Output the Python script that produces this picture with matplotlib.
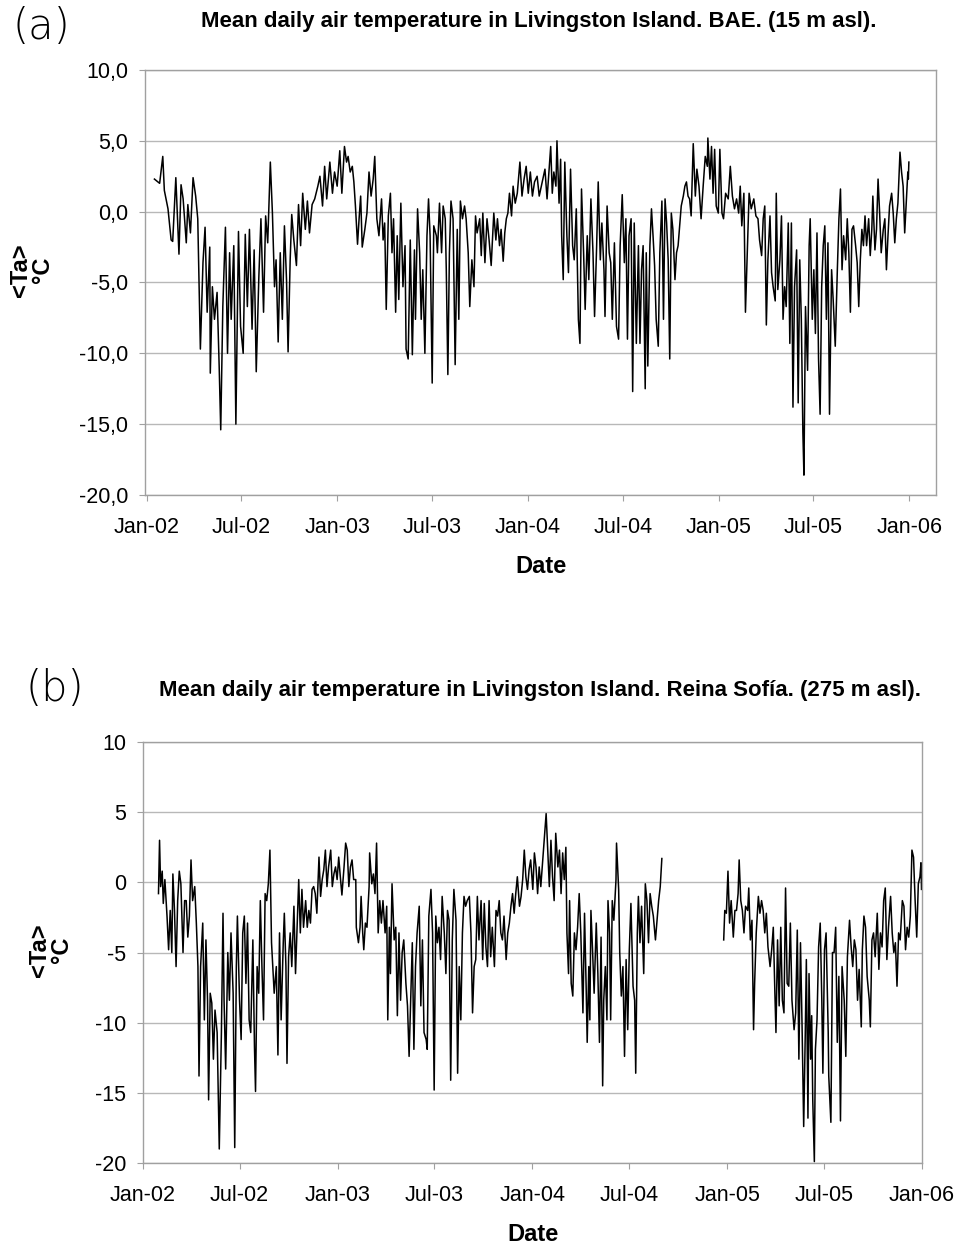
import numpy as np
import matplotlib
matplotlib.use('Agg')
import matplotlib.pyplot as plt
import matplotlib.dates as mdates
from matplotlib.ticker import FuncFormatter, MultipleLocator

plt.rcParams['font.family'] = ['Liberation Sans', 'DejaVu Sans']

# mean daily air temperature
# days counted from 1 Jan 2002
days_bae = [15, 25, 31, 34, 41, 47, 50, 56, 62, 66, 70, 76, 79, 84, 89, 94, 98, 103, 108, 112,
            116, 121, 122, 126, 130, 135, 139, 142, 146, 151, 155, 159, 162, 167, 171, 176, 180, 185, 189, 193,
            197, 202, 206, 210, 215, 219, 224, 228, 232, 237, 241, 245, 248, 252, 256, 260, 264, 268, 271, 275,
            278, 282, 287, 291, 295, 299, 304, 308, 312, 317, 322, 328, 332, 337, 341, 345, 351, 356, 360, 365,
            370, 374,
            379, 383, 386, 390, 394, 397, 400, 404, 407, 410, 413, 418, 422, 426, 430, 434, 437, 441, 445, 450,
            453, 456, 459, 463, 467, 470, 473, 477, 480, 483, 487, 491, 495, 497, 501, 505, 509, 513, 515, 519,
            523, 526, 529, 533, 537, 540, 543, 547, 550, 555, 557, 561, 565, 568, 572, 574, 577, 580, 583, 587,
            591, 595, 598, 601, 605, 609, 612, 616, 619, 623, 627, 630, 633, 638, 641, 644, 648, 652, 656, 660,
            665, 669, 672, 676, 679, 683, 686, 689, 692, 695, 699, 702, 706, 710, 715, 719, 723, 727, 731, 735,
            739, 743, 748, 752,
            763, 767, 771, 774, 777, 780, 784, 786, 790, 793, 795, 798, 801, 805, 808, 812, 816, 819, 823, 827,
            830, 833, 837, 840, 844, 847, 851, 855, 858, 862, 865, 869, 872, 876, 878, 882, 886, 889, 892, 896,
            900, 904, 907, 911, 915, 918, 921, 924, 928, 931, 934, 938, 942, 945, 948, 951, 955, 957, 960, 964,
            967, 970, 973, 976, 980, 983, 987, 990, 993, 996, 999, 1002, 1005, 1008, 1012, 1015, 1018, 1021, 1024, 1028,
            1031, 1034, 1037, 1040, 1043, 1047, 1051, 1054, 1058, 1062, 1066, 1070, 1074, 1075, 1079, 1082, 1085, 1088, 1091, 1095,
            1098, 1102, 1105, 1109, 1114, 1118, 1122, 1126, 1130, 1134, 1137, 1140, 1144, 1147, 1150, 1154,
            1158, 1163, 1167, 1171, 1174, 1178, 1181, 1184, 1187, 1190, 1194, 1197, 1200, 1204, 1206, 1209, 1213, 1216, 1219, 1222,
            1225, 1229, 1232, 1235, 1238, 1241, 1245, 1248, 1251, 1254, 1257, 1259, 1262, 1266, 1269, 1271, 1275, 1278, 1281, 1284,
            1287, 1290, 1293, 1296, 1299, 1302, 1305, 1308, 1312, 1315, 1319, 1323, 1326, 1329, 1332, 1335, 1339, 1342, 1345, 1348,
            1351, 1354, 1358, 1361, 1364, 1367, 1370, 1373, 1376, 1379, 1383, 1386, 1389, 1391, 1395, 1398, 1401, 1404, 1407, 1411,
            1414, 1417, 1420, 1423, 1427, 1430, 1433, 1436, 1439, 1443, 1446, 1449, 1452, 1455, 1458, 1459, 1460]
ta_bae = [2.3, 2.0, 3.9, 1.5, 0.2, -2.0, -2.1, 2.4, -3.0, 1.9, 0.9, -2.2, 0.5, -1.5, 2.4, 1.1, -0.5, -9.7, -3.6, -1.1,
          -7.1, -2.5, -11.4, -5.3, -7.6, -5.7, -10.9, -15.4, -6.7, -1.1, -10.0, -2.9, -7.6, -2.4, -15.0, -1.4, -8.1, -10.0, -1.6, -6.7,
          -1.25, -8.3, -2.7, -11.3, -4.6, -0.5, -7.1, -0.3, -2.2, 3.5, -0.1, -5.3, -3.4, -9.2, -2.9, -7.6, -1.0, -4.8, -9.9, -3.4,
          -0.2, -2.0, -3.8, 0.5, -2.4, 1.3, -1.25, 0.75, -1.5, 0.5, 0.9, 1.8, 2.5, 0.4, 3.2, 0.9, 3.5, 1.3, 2.8, 1.8,
          4.3, 1.3,
          4.6, 3.5, 3.9, 2.8, 3.2, 2.1, 0.4, -2.3, -0.5, 1.1, -2.5, -1.25, -0.1, 2.8, 1.1, 2.3, 3.9, -0.5, -1.7, 0.9,
          -2.0, -0.8, -6.9, -0.3, 1.3, -2.9, -0.5, -7.1, -1.7, -6.2, 0.6, -5.3, -2.4, -9.7, -10.4, -2.0, -10.1, -2.7, -7.6, 0.2,
          -2.9, -7.6, -4.1, -10.0, -1.7, 0.9, -1.7, -12.1, -1.0, -1.7, -2.9, 0.6, -2.9, 0.4, -0.5, -4.1, -11.5, -2.9, 0.75, -0.5,
          -10.8, -1.25, -7.6, 0.75, -0.5, 0.4, -0.5, -2.9, -6.7, -3.4, -5.3, -0.3, -1.5, -0.5, -3.1, -0.1, -3.6, -0.5, -2.0, -3.8,
          -0.1, -2.0, -0.5, -2.4, -1.25, -3.5, -1.5, -0.5, -0.1, 1.3, -0.3, 1.8, 0.6, 1.3, 3.5, 1.1, 2.3, 3.2, 1.3, 2.8,
          1.1, 2.1, 2.5, 1.1,
          3.0, 0.9, 3.0, 4.6, 1.3, 2.8, 1.8, 5.0, 0.6, 3.7, -1.7, -4.8, 3.5, -1.7, -4.3, 3.0, -2.4, -3.4, 0.2, -7.6,
          -9.3, 1.6, -2.9, -6.9, -1.7, -4.8, 0.9, -2.9, -7.4, -2.4, 2.1, -3.4, -0.8, -4.1, -7.4, 0.4, -2.9, -3.6, -7.6, -2.2,
          -8.1, -9.0, -2.4, 1.2, -3.6, -0.5, -9.0, -1.7, -0.5, -12.7, -0.8, -9.3, -2.4, -9.3, -4.1, -2.4, -12.5, -2.9, -10.9, -2.4,
          0.2, -1.7, -3.8, -7.6, -9.5, -2.9, 0.75, -7.6, 0.9, -0.8, -3.4, -10.4, -0.1, -1.25, -4.8, -2.9, -2.4, -1.0, 0.4, 1.1,
          1.8, 2.1, 1.1, 0.9, -0.3, 4.8, 1.1, 3.0, 1.8, -0.5, 1.8, 3.9, 3.2, 5.2, 2.3, 4.6, 1.3, 4.4, 0.4, -0.1,
          4.4, -0.1, -0.5, 1.3, 0.9, 3.2, 1.1, 0.2, 0.9, -0.1, 1.8, -1.0, 1.3, -7.1, -3.6, 1.3,
          0.2, 0.9, -0.3, -0.5, -2.0, -3.1, -0.5, 0.4, -8.0, -3.4, -0.3, -4.3, -5.3, -6.3, 1.3, -5.5, -3.4, -0.3, -7.6, -5.3,
          -6.7, -0.8, -9.3, -0.8, -13.8, -5.3, -2.7, -13.5, -3.4, -7.6, -15.6, -18.6, -6.7, -11.2, -2.4, -0.5, -7.6, -4.1, -8.6, -1.5,
          -10.4, -14.3, -5.3, -2.4, -1.0, -7.6, -2.2, -14.3, -4.1, -6.2, -9.5, -4.1, -0.5, 1.6, -4.1, -1.7, -3.4, -0.5, -2.9, -7.1,
          -1.25, -1.0, -2.4, -3.6, -6.7, -3.4, -1.25, -2.4, -0.3, -2.4, -0.5, -3.1, -1.25, 1.1, -2.7, -1.25, 2.3, -0.1, -2.9, -1.25,
          -0.5, -4.1, -1.7, 0.4, 1.3, -0.1, -2.2, -0.5, 0.6, 4.2, 2.8, 1.8, -1.5, 0.6, 2.8, 2.3, 3.5]

# Reina Sofia station; gap from Sep to Dec 2004 (nan)
days_rs = [29, 31, 33, 36, 38, 41, 45, 48, 51, 54, 56, 59, 62, 65, 68, 71, 75, 78, 81, 84,
           87, 90, 93, 97, 100, 103, 105, 108, 112, 115, 118, 121, 123, 126, 129, 132, 135, 139, 141, 143,
           147, 150, 152, 155, 159, 162, 165, 169, 172, 175, 177, 181, 184, 187, 190, 193, 196, 199, 202, 206,
           209, 211, 214, 217, 220, 223, 226, 229, 232, 235, 238, 241, 244, 246, 250, 253, 256, 259, 263, 265,
           268, 270, 273, 276, 279, 283, 286, 289, 292, 295, 298, 301, 305, 308, 311, 314, 317, 320, 323, 326,
           330, 333, 336, 339, 342, 345, 348, 352, 355, 358, 361, 364, 367, 370, 373, 377, 380, 383, 386,
           389, 392, 395, 399, 400, 404, 407, 409, 412, 414, 417, 420, 424, 425, 429, 432, 435, 438, 441, 444,
           447, 450, 454, 457, 459, 462, 464, 467, 471, 474, 477, 480, 483, 486, 489, 493, 496, 499, 502, 505,
           508, 511, 514, 518, 521, 524, 527, 531, 533, 536, 540, 543, 546, 549, 552, 555, 558, 561, 565, 568,
           571, 574, 577, 580, 583, 587, 590, 593, 596, 599, 602, 605, 608, 612, 615, 618, 621, 624, 627, 630,
           634, 637, 640, 643, 646, 649, 652, 655, 659, 662, 665, 668, 671, 674, 677, 681, 684, 687, 690, 693,
           696, 699, 702, 706, 709, 712, 715, 718, 721, 724, 727, 731, 734, 737, 740, 743, 746,
           756, 759, 762, 765, 768, 771, 774, 778, 781, 784, 787, 790, 793, 795, 798, 800, 803, 806, 809, 812,
           815, 818, 821, 825, 828, 831, 833, 836, 838, 840, 843, 846, 850, 853, 856, 859, 862, 864, 867, 870,
           872, 875, 877, 880, 883, 887, 888, 892, 894, 897, 900, 903, 906, 909, 912, 915, 919, 922, 924, 927,
           929, 932, 935, 939, 942, 945, 948, 951, 954, 957, 961, 964, 967, 970, 973,
           1030,
           1089, 1091, 1094, 1097, 1100, 1103, 1107, 1110, 1113, 1116, 1118, 1121, 1124, 1127, 1130, 1134, 1136, 1139, 1142, 1145,
           1147, 1150, 1154, 1157, 1160, 1163, 1166, 1169, 1172, 1176, 1179, 1182, 1185, 1187, 1190, 1193, 1196, 1199, 1202, 1205,
           1208, 1211, 1214, 1217, 1221, 1224, 1227, 1230, 1233, 1236, 1239, 1242, 1244, 1247, 1249, 1252, 1254, 1256, 1259, 1261,
           1264, 1267, 1270, 1273, 1275, 1278, 1281, 1285, 1286, 1290, 1293, 1296, 1299, 1302, 1305, 1308, 1311, 1315, 1318, 1321,
           1325, 1328, 1331, 1334, 1337, 1340, 1343, 1347, 1349, 1352, 1355, 1358, 1362, 1364, 1367, 1370, 1373, 1377, 1380, 1383,
           1386, 1389, 1392, 1395, 1398, 1402, 1405, 1408, 1411, 1414, 1417, 1420, 1424, 1427, 1430, 1433, 1436, 1439, 1442, 1445,
           1448, 1451, 1454, 1457, 1459, 1460]
ta_rs = [-0.8, 3.0, -0.3, 0.8, -1.5, 0.2, -2.4, -4.8, -2.0, -5.0, 0.6, -2.0, -6.0, -1.3, 0.8, -0.1, -5.0, -1.3, -1.3, -3.9,
         -2.4, 1.6, -1.3, -0.3, -2.9, -6.0, -13.8, -6.0, -2.9, -9.8, -4.1, -8.4, -15.5, -7.9, -8.6, -12.6, -9.1, -10.7, -15.0, -19.0,
         -10.7, -2.2, -8.4, -13.3, -5.0, -8.4, -3.6, -7.9, -18.9, -6.0, -2.4, -8.4, -11.2, -3.6, -2.4, -7.2, -2.9, -9.8, -10.7, -4.1,
         -11.7, -14.9, -6.0, -7.9, -1.3, -6.0, -9.8, -0.8, -1.3, -0.1, 2.3, -4.3, -6.5, -7.9, -6.0, -12.3, -3.6, -9.8, -4.3, -2.2,
         -6.0, -12.9, -5.3, -3.6, -6.0, -1.7, -6.5, -3.2, 0.2, -3.6, -0.5, -3.2, -1.3, -3.2, -2.0, -2.9, -0.5, -0.3, -0.8, -2.2,
         1.8, -1.0, 0.2, 0.9, 2.3, -0.3, 1.1, 2.3, -0.3, 0.6, 1.1, 0.2, 1.8, 0.4, -0.9, 1.1, 2.8, 2.3, -0.3,
         1.1, 1.6, 0.2, 0.2, -3.2, -4.3, -3.2, -1.0, -3.6, -4.8, -2.9, -3.2, -0.3, 2.1, -0.1, 0.6, -0.8, 2.8, -3.6, -1.3,
         -2.9, -1.3, -3.6, -1.7, -9.8, -3.2, -6.5, -0.1, -4.1, -3.2, -9.5, -3.6, -8.4, -5.0, -4.1, -7.2, -8.8, -12.4, -8.4, -4.3,
         -11.9, -6.0, -3.6, -1.7, -8.8, -4.1, -10.7, -11.2, -11.9, -2.4, -0.5, -3.6, -14.8, -2.4, -4.3, -3.2, -5.5, -1.0, -3.6, -6.5,
         -2.0, -2.7, -14.1, -4.1, -0.5, -2.7, -13.6, -6.0, -9.8, -3.6, -1.0, -1.7, -1.3, -1.0, -3.6, -9.3, -6.0, -5.5, -1.0, -4.1,
         -1.3, -5.5, -1.5, -4.6, -6.0, -1.3, -5.3, -3.2, -6.0, -2.0, -2.4, -1.3, -3.6, -4.1, -2.4, -5.5, -3.6, -2.9, -1.7, -0.8,
         -2.2, -0.8, 0.4, -1.7, -1.0, 0.2, 2.3, 0.4, -0.5, 0.9, 1.6, -0.5, 2.1, 1.1, -0.8, 1.1, -0.3,
         4.9, 2.3, -0.3, 3.0, 0.4, -1.3, 3.5, 1.1, 2.3, -0.8, 2.1, 0.2, 2.5, -3.6, -6.5, -1.3, -7.2, -8.1, -3.6, -4.8,
         -3.2, -0.8, -3.6, -9.3, -2.2, -7.4, -11.4, -6.0, -9.8, -2.0, -4.8, -7.9, -2.9, -6.5, -11.4, -3.9, -14.5, -8.4, -6.0, -9.8,
         -1.3, -3.6, -9.8, -1.3, -2.7, 0.2, 2.8, -0.5, -5.0, -8.1, -6.0, -12.4, -5.5, -10.5, -4.8, -1.5, -7.4, -8.4, -13.6, -3.6,
         -1.0, -4.3, -1.7, -6.5, -0.1, -1.3, -4.3, -0.8, -1.7, -2.4, -4.1, -2.7, -1.3, -0.3, 1.7,
         np.nan,
         -4.1, -2.0, -2.2, 0.8, -2.9, -1.3, -3.9, -2.0, -2.0, -0.8, 1.6, -1.3, -2.0, -3.6, -1.7, -2.0, -0.4, -4.1, -2.7, -10.5,
         -7.2, -3.6, -1.0, -2.2, -1.3, -2.0, -3.6, -2.2, -4.6, -6.0, -4.8, -3.2, -7.9, -10.7, -4.1, -8.8, -3.2, -8.4, -9.3, -0.4,
         -7.2, -7.4, -2.9, -8.4, -10.5, -9.3, -3.4, -12.6, -4.3, -10.3, -17.4, -10.7, -5.5, -16.8, -6.5, -12.6, -9.5, -15.5, -19.9, -11.9,
         -9.8, -4.6, -2.9, -8.4, -13.6, -4.8, -3.6, -10.7, -13.8, -17.1, -5.0, -5.0, -3.2, -11.4, -6.7, -17.0, -6.0, -8.4, -12.4, -5.3,
         -2.7, -4.6, -6.0, -4.1, -4.8, -8.4, -6.2, -10.3, -4.8, -2.4, -3.2, -6.7, -8.4, -10.3, -4.1, -3.6, -5.3, -2.2, -6.2, -3.6,
         -4.6, -1.3, -0.4, -5.5, -3.2, -1.0, -3.6, -5.0, -4.3, -7.4, -3.6, -4.1, -1.3, -1.7, -4.8, -3.2, -3.9, -2.4, 2.3, 1.8,
         -1.3, -3.9, -0.1, 0.4, 1.4, -0.5]

titles = ["Mean daily air temperature in Livingston Island. BAE. (15 m asl).",
          "Mean daily air temperature in Livingston Island. Reina Sofía. (275 m asl)."]

start = np.datetime64('2002-01-01')


def to_dates(days):
    return start + np.array(days).astype('timedelta64[D]')


fig = plt.figure(figsize=(9.56, 12.48), dpi=100)

ax1 = fig.add_axes([0.1517, 0.6034, 0.8274, 0.3405])
ax2 = fig.add_axes([0.1496, 0.0681, 0.8149, 0.3373])

ax1.plot(to_dates(days_bae), ta_bae, color='black', lw=1.1)
ax2.plot(to_dates(days_rs), ta_rs, color='black', lw=1.1)

ax1.set_xlim(start - np.timedelta64(3, 'D'), start + np.timedelta64(1512, 'D'))
ax2.set_xlim(start, start + np.timedelta64(1461, 'D'))

for ax in (ax1, ax2):
    ax.set_ylim(-20, 10)
    ax.yaxis.set_major_locator(MultipleLocator(5))
    ax.xaxis.set_major_locator(mdates.MonthLocator(bymonth=[1, 7]))
    ax.xaxis.set_major_formatter(mdates.DateFormatter('%b-%y'))
    ax.yaxis.grid(True, color='#b8b8b8', lw=1.0)
    ax.set_axisbelow(True)
    for s in ax.spines.values():
        s.set_color('#a0a0a0')
        s.set_linewidth(1.0)
    ax.tick_params(axis='x', direction='out', length=4, width=0.8, color='#a0a0a0',
                   labelsize=15.5, pad=12)
    ax.tick_params(axis='y', direction='out', length=4, width=0.8, color='#a0a0a0',
                   labelsize=15.5, pad=8)
    ax.set_xlabel('Date', fontsize=17, fontweight='bold', labelpad=12)

ax1.yaxis.set_major_formatter(FuncFormatter(lambda v, p: f'{v:.1f}'.replace('.', ',')))
ax2.yaxis.set_major_formatter(FuncFormatter(lambda v, p: f'{v:.0f}'))

fig.text(0.564, 0.983, titles[0], ha='center', va='center', fontsize=16, fontweight='bold')
fig.text(0.565, 0.447, titles[1], ha='center', va='center', fontsize=16, fontweight='bold')

fig.text(0.043, 0.979, '(a)', ha='center', va='center', fontsize=30, fontweight='light',
         family=['DejaVu Sans'])
fig.text(0.057, 0.448, '(b)', ha='center', va='center', fontsize=30, fontweight='light',
         family=['DejaVu Sans'])

fig.text(0.033, 1 - 270 / 1248, '<Ta>\n°C', rotation=90, ha='center', va='center',
         fontsize=17, fontweight='bold', linespacing=0.95, multialignment='center')
fig.text(0.053, 1 - 950 / 1248, '<Ta>\n°C', rotation=90, ha='center', va='center',
         fontsize=17, fontweight='bold', linespacing=0.95, multialignment='center')

fig.savefig('out.png', dpi=100)
